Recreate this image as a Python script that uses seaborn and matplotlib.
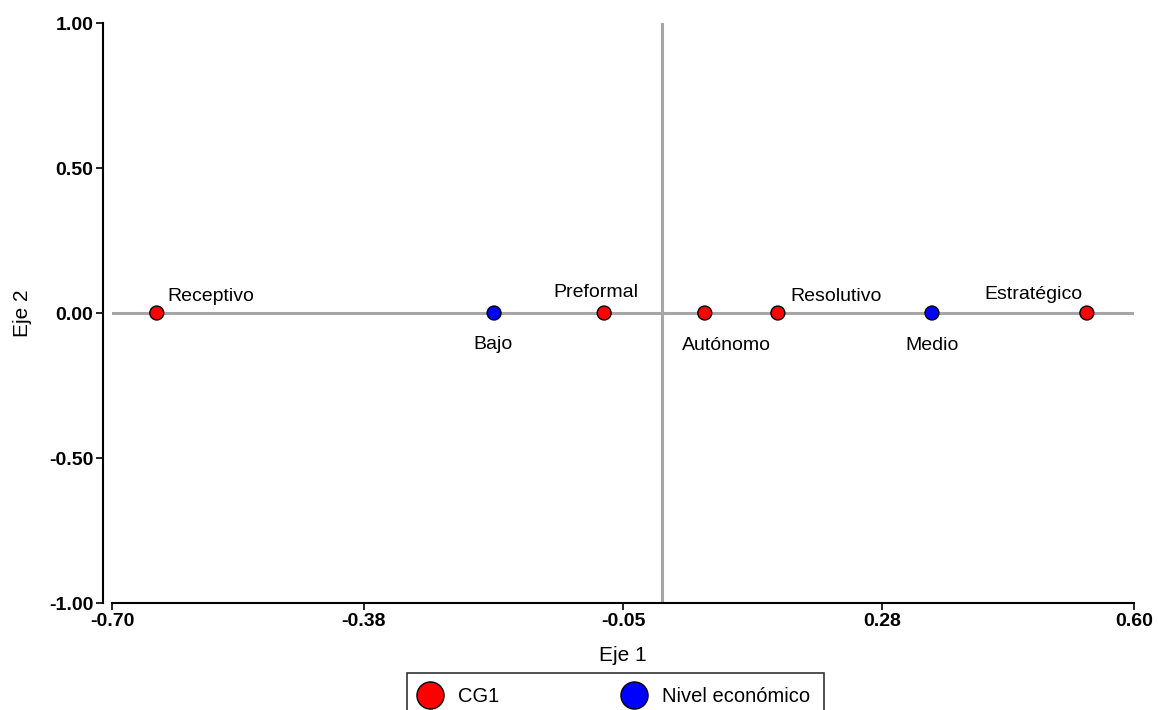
import matplotlib.pyplot as plt
import pandas as pd
import seaborn as sns

LABELS = ["Receptivo", "Bajo", "Preformal", "Autónomo", "Resolutivo", "Medio", "Estratégico"]
EJE1 = [-0.643, -0.214, -0.074, 0.054, 0.147, 0.343, 0.540]
EJE2 = [0.0, 0.0, 0.0, 0.0, 0.0, 0.0, 0.0]
GROUP = ["CG1", "Nivel económico", "CG1", "CG1", "CG1", "Nivel económico", "CG1"]
X_TICKS = [-0.70, -0.38, -0.05, 0.28, 0.60]
Y_TICKS = [-1.00, -0.50, 0.00, 0.50, 1.00]

# label placement (offset in pixels to the baseline, horizontal alignment)
OFFSETS = {
    "Receptivo": (11, 12, "left"),
    "Bajo": (-1, -36, "center"),
    "Preformal": (-8, 16, "center"),
    "Autónomo": (22, -37, "center"),
    "Resolutivo": (12, 12, "left"),
    "Medio": (0, -37, "center"),
    "Estratégico": (-4, 14, "right"),
}


def main() -> None:
    sns.set_style("white")
    plt.rcParams["font.family"] = ["Liberation Sans", "DejaVu Sans"]
    plt.rcParams.update({
        "text.color": "black",
        "axes.labelcolor": "black",
        "xtick.color": "black",
        "ytick.color": "black",
    })

    df = pd.DataFrame({"label": LABELS, "eje1": EJE1, "eje2": EJE2, "grupo": GROUP})

    fig = plt.figure(figsize=(11.58, 7.10), dpi=100)
    ax = fig.add_axes([0.0967, 0.1507, 0.8826, 0.8169])

    ax.axhline(0, color="#a6a6a6", linewidth=2.2, zorder=1)
    ax.axvline(0, color="#a6a6a6", linewidth=2.2, zorder=1)

    sns.scatterplot(
        data=df,
        x="eje1",
        y="eje2",
        hue="grupo",
        palette={"CG1": "#ff0000", "Nivel económico": "#0000ff"},
        s=100,
        edgecolor="black",
        linewidth=1.0,
        ax=ax,
        zorder=3,
    )

    for row in df.itertuples(index=False):
        dx, dy, ha = OFFSETS[row.label]
        ax.annotate(
            row.label,
            (row.eje1, row.eje2),
            xytext=(dx, dy),
            textcoords="offset pixels",
            ha=ha,
            va="baseline",
            fontsize=14,
            color="black",
        )

    sns.despine(ax=ax)
    ax.spines["left"].set_position(("outward", 6.5))
    for side in ["left", "bottom"]:
        ax.spines[side].set_color("black")
        ax.spines[side].set_linewidth(1.5)

    ax.set_xlim(-0.70, 0.60)
    ax.set_ylim(-1.00, 1.00)
    ax.set_xticks(X_TICKS)
    ax.set_xticklabels([f"{v:.2f}" for v in X_TICKS], fontweight="bold", fontsize=14)
    ax.set_yticks(Y_TICKS)
    ax.set_yticklabels([f"{v:.2f}" for v in Y_TICKS], fontweight="bold", fontsize=14)
    ax.tick_params(axis="both", direction="out", length=5, width=1.2, color="black", pad=2)
    ax.tick_params(axis="both", bottom=True, left=True)

    ax.set_xlabel("Eje 1", fontsize=15, labelpad=12)
    ax.set_ylabel("Eje 2", fontsize=15, labelpad=12)

    handles, labels = ax.get_legend_handles_labels()
    ax.get_legend().remove()
    leg = fig.legend(
        handles,
        labels,
        loc="upper center",
        bbox_to_anchor=(0.5315, 0.052),
        borderaxespad=0,
        ncol=2,
        frameon=True,
        fancybox=False,
        edgecolor="black",
        markerscale=1.95,
        fontsize=14.5,
        handlelength=0.9,
        columnspacing=6.2,
        handletextpad=0.95,
        borderpad=0.7,
    )
    leg.get_frame().set_linewidth(1.2)

    fig.savefig("out.png", dpi=100)
    plt.close(fig)


if __name__ == "__main__":
    main()
